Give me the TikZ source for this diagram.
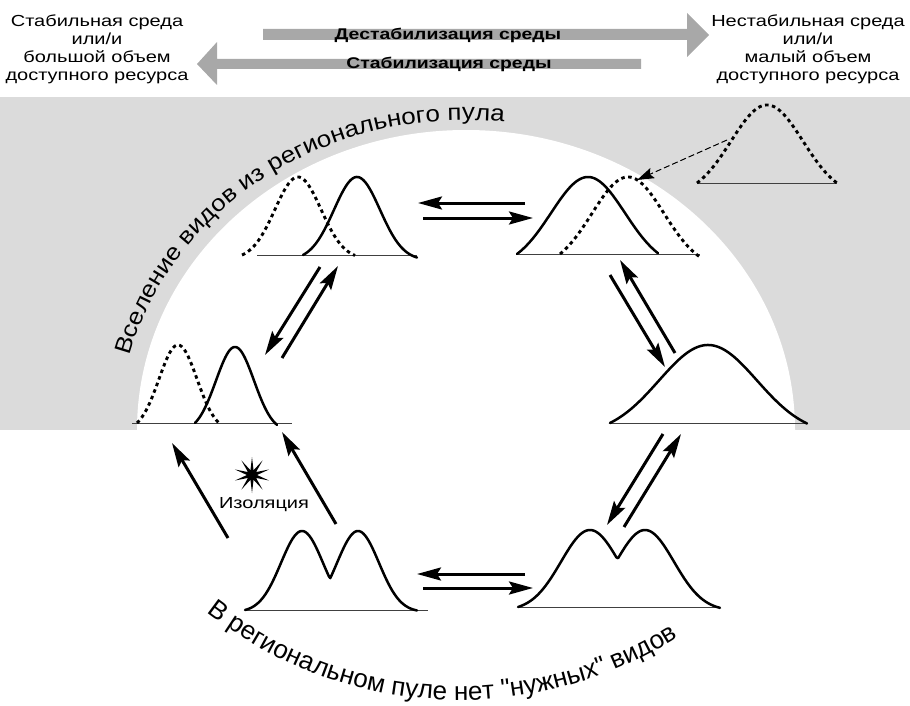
\documentclass[tikz,border=0pt]{standalone}
\usepackage{fontspec}
\setmainfont{Liberation Sans}[FakeStretch=1.25]
\newfontfamily\arcfont{Liberation Sans}[FakeStretch=1.13]
\newfontfamily\botfont{Liberation Sans}
\usetikzlibrary{arrows.meta,decorations.text,shapes.geometric}
\definecolor{bandgray}{HTML}{DBDBDB}
\definecolor{arrgray}{HTML}{A8A8A8}
% style, start, end, mu1, mu2, sigma, height, baseline
\newcommand\distcurve[8][]{\draw[#1] plot[domain=#2:#3, samples=120] (\x, {#8 - #7*(max(exp(-0.5*((\x-#4)/#6)*((\x-#4)/#6)), exp(-0.5*((\x-#5)/#6)*((\x-#5)/#6))) - exp(-0.5*((#2-#4)/#6)*((#2-#4)/#6)))/(1-exp(-0.5*((#2-#4)/#6)*((#2-#4)/#6)))});}
\begin{document}
\begin{tikzpicture}[x=1pt,y=-1pt,
  curve/.style={line width=2.5pt, line cap=round, line join=round},
  dotcurve/.style={line width=2.9pt, dash pattern=on 3.5pt off 3.5pt},
  baseln/.style={line width=0.9pt, draw=black!75},
  flow/.style={line width=3pt, -{Stealth[length=24pt, width=13pt, inset=4pt]}},
  hdr/.style={font=\fontsize{16}{18}\selectfont, align=center, inner sep=0pt},
  bighdr/.style={font=\bfseries\fontsize{15.5}{18}\selectfont, inner sep=0pt}]
\useasboundingbox (0,0) rectangle (910,706);
% background band with white half ellipse
\fill[bandgray] (0,97) rectangle (910,430);
\begin{scope}
  \clip (0,97) rectangle (910,430);
  \fill[white] (466,430) ellipse [x radius=329pt, y radius=300pt];
\end{scope}
% header arrows
\fill[arrgray] (263,29) -- (687,29) -- (687,13) -- (709,35) -- (687,57) -- (687,40) -- (263,40) -- cycle;
\fill[arrgray] (641,59) -- (217,59) -- (217,42) -- (197,64) -- (217,85) -- (217,69) -- (641,69) -- cycle;
\node[bighdr] (destab) at (448,35) {Дестабилизация среды};
\node[bighdr] (stab) at (449,64) {Стабилизация среды};
\node[hdr] (lefttxt) at (97,49) {Стабильная среда\\или/и\\большой объем\\доступного ресурса};
\node[hdr] (righttxt) at (808,49) {Нестабильная среда\\или/и\\малый объем\\доступного ресурса};
% curved labels
\path[decorate, decoration={text along path, text align=center,
  text={|\arcfont\fontsize{23}{23}\selectfont|Вселение видов из регионального пула}}]
  plot[domain=0:86, samples=87] ({466+346*cos(168-\x)}, {430-310*sin(168-\x)});
\path[decorate, decoration={text along path, text align=center,
  text={|\botfont\fontsize{26}{26}\selectfont|В региональном пуле нет "нужных" видов}}]
  plot[domain=0:82, samples=83] ({460+410*cos(134-\x)}, {290+410*sin(134-\x)});
% panel A
\draw[baseln] (257,255) -- (417,255);
\distcurve[dotcurve]{242}{355}{298}{298}{23}{78}{255}
\distcurve[curve]{303}{417}{357}{357}{23}{78}{255}
% panel B
\draw[baseln] (517,254) -- (700,254);
\distcurve[curve]{517}{658}{588}{588}{37}{77}{254}
\distcurve[dotcurve]{560}{700}{628}{628}{36}{77}{254}
% panel C
\draw[baseln] (697,183) -- (837,183);
\distcurve[dotcurve]{697}{837}{767}{767}{36}{78}{183}
% panel D
\draw[baseln] (132,423) -- (292,423);
\distcurve[dotcurve]{137}{220}{178}{178}{19}{78}{423}
\distcurve[curve]{195}{277}{235}{235}{19}{76}{423}
% panel E
\draw[baseln] (610,423) -- (807,423);
\distcurve[curve]{610}{807}{708}{708}{49}{78}{423}
% panel F
\draw[baseln] (245,610) -- (428,610);
\distcurve[curve]{245}{417}{302}{358}{21}{79}{610}
% panel G
\draw[baseln] (518,607) -- (720,607);
\distcurve[curve]{518}{720}{590}{645}{29}{77}{607}
% arrow end points
\coordinate (ab1s) at (525,203); \coordinate (ab1e) at (418,203);
\coordinate (ab2s) at (423,218); \coordinate (ab2e) at (533,218);
\coordinate (ad1s) at (320,267); \coordinate (ad1e) at (265,355);
\coordinate (ad2s) at (282,358); \coordinate (ad2e) at (338,266);
\coordinate (be1s) at (610,275); \coordinate (be1e) at (665,367);
\coordinate (be2s) at (675,353); \coordinate (be2e) at (620,260);
\coordinate (eg1s) at (663,434); \coordinate (eg1e) at (607,525);
\coordinate (eg2s) at (624,527); \coordinate (eg2e) at (681,434);
\coordinate (fg1s) at (525,574); \coordinate (fg1e) at (417,574);
\coordinate (fg2s) at (423,588); \coordinate (fg2e) at (533,588);
\coordinate (fd1s) at (228,538); \coordinate (fd1e) at (172,443);
\coordinate (fd2s) at (336,524); \coordinate (fd2e) at (282,432);
\coordinate (cbs) at (727,140); \coordinate (cbe) at (637,180);
\foreach \a in {ab1,ab2,ad1,ad2,be1,be2,eg1,eg2,fg1,fg2,fd1,fd2}
  \draw[flow] (\a s) -- (\a e);
\draw[line width=1pt, dash pattern=on 6pt off 3pt, -{Stealth[length=17pt, width=11pt, inset=3pt]}] (cbs) -- (cbe);
% isolation
\node[star, star points=10, star point ratio=3.6, fill=black, minimum size=36pt, inner sep=0pt] (burst) at (252,475) {};
\node[font=\fontsize{16}{16}\selectfont, inner sep=0pt] (iso) at (264,505) {Изоляция};
\end{tikzpicture}
\end{document}
